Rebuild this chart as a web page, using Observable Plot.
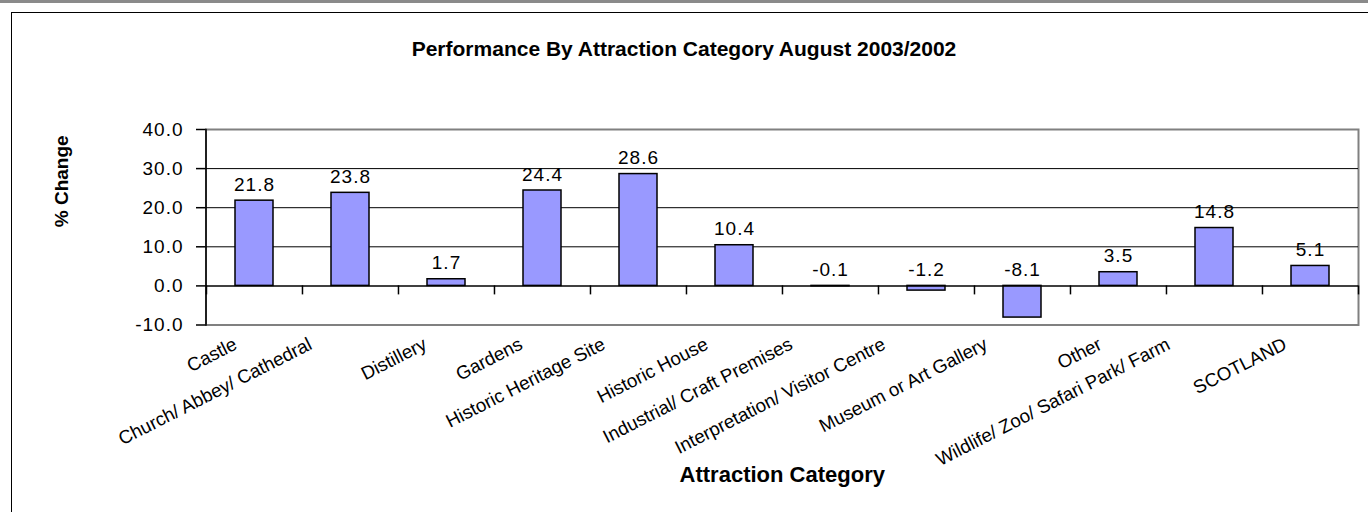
<!DOCTYPE html>
<html><head><meta charset="utf-8">
<script src="https://cdn.jsdelivr.net/npm/d3@7"></script>
<script src="https://cdn.jsdelivr.net/npm/@observablehq/plot@0.6"></script>
<style>
html,body{margin:0;padding:0;background:#fff;}
body{width:1368px;height:512px;position:relative;overflow:hidden;font-family:"Liberation Sans",Arial,sans-serif;}
#topbar{position:absolute;left:0;top:0;width:1368px;height:3px;background:#8a8a8a;}
#box{position:absolute;left:11px;top:12px;width:1400px;height:600px;border:1.5px solid #000;box-sizing:border-box;}
#title{position:absolute;left:0;top:38px;width:1368px;text-align:center;font-weight:bold;font-size:21px;line-height:21px;color:#000;}
#chart{position:absolute;left:0;top:0;}
#chart g.num text{letter-spacing:1px;}
</style></head><body>
<div id="topbar"></div><div id="box"></div>
<div id="title"></div>
<div id="chart"></div>
<script>
const chartTitle = "Performance By Attraction Category August 2003/2002";
const categories = ["Castle", "Church/ Abbey/ Cathedral", "Distillery", "Gardens", "Historic Heritage Site", "Historic House", "Industrial/ Craft Premises", "Interpretation/ Visitor Centre", "Museum or Art Gallery", "Other", "Wildlife/ Zoo/ Safari Park/ Farm", "SCOTLAND"];
const values = [21.8, 23.8, 1.7, 24.4, 28.6, 10.4, -0.1, -1.2, -8.1, 3.5, 14.8, 5.1];
const yTicks = [-10, 0, 10, 20, 30, 40];
const gridValues = [10, 20, 30];
const yLabel = "% Change";
const xLabel = "Attraction Category";

document.getElementById("title").textContent = chartTitle;
const rows = categories.map((c, i) => ({category: c, value: values[i]}));

const W = 1368, H = 512, mL = 205.5, mR = 10, mT = 129, mB = 187.5;
const half = (W - mL - mR) / categories.length / 2;
const catFont = 18.7;
const FONT = '"Liberation Sans", Arial, sans-serif';

// Excel-like placement of rotated category labels: longer labels shift further left
const ctx = document.createElement("canvas").getContext("2d");
ctx.font = `${catFont}px ${FONT}`;
const catLabelMarks = categories.map(c => {
  const len = ctx.measureText(c).width;
  return Plot.text([c], {x: d => d, frameAnchor: "bottom", rotate: -27, textAnchor: "end", lineAnchor: "middle",
    dx: -12 - 0.13 * len, dy: 18, fontSize: catFont, fill: "black"});
});

const chart = Plot.plot({
  width: W, height: H,
  marginLeft: mL, marginRight: mR, marginTop: mT, marginBottom: mB,
  style: {fontFamily: FONT, background: "transparent", color: "black"},
  x: {type: "band", domain: categories, paddingInner: 0.6, paddingOuter: 0.3, axis: null},
  y: {domain: [-10, 40]},
  marks: [
    Plot.frame({stroke: "#808080", strokeWidth: 2}),
    Plot.ruleY(gridValues, {stroke: "black", strokeWidth: 1}),
    Plot.barY(rows, {x: "category", y: "value", fill: "#9999ff", stroke: "black", strokeWidth: 1.5}),
    Plot.ruleY([0], {stroke: "black", strokeWidth: 1.5}),
    Plot.frame({anchor: "left", stroke: "black", strokeWidth: 1.5}),
    Plot.ruleX(categories, {x: d => d, y1: () => 0, y2: () => 0, dx: -half, insetBottom: -9, stroke: "black", strokeWidth: 1.5}),
    Plot.ruleX(categories.slice(-1), {x: d => d, y1: () => 0, y2: () => 0, dx: half, insetBottom: -9, stroke: "black", strokeWidth: 1.5}),
    Plot.axisY({ticks: yTicks, tickFormat: d => d.toFixed(1), tickSize: 9.5, tickPadding: 13, fontSize: 19, label: null, strokeWidth: 1.5, className: "num"}),
    Plot.text(rows, {x: "category", y: d => Math.max(d.value, 0), text: d => d.value.toFixed(1), dy: -16, fontSize: 19, lineAnchor: "middle", fill: "black", className: "num"}),
    ...catLabelMarks,
    Plot.text([yLabel], {frameAnchor: "left", rotate: -90, dx: -144.5, fontSize: 19, fontWeight: "bold", lineAnchor: "middle", fill: "black"}),
    Plot.text([xLabel], {frameAnchor: "bottom", dy: 150, fontSize: 22, fontWeight: "bold", lineAnchor: "middle", fill: "black"})
  ]
});
document.getElementById("chart").appendChild(chart);
</script>
</body></html>
